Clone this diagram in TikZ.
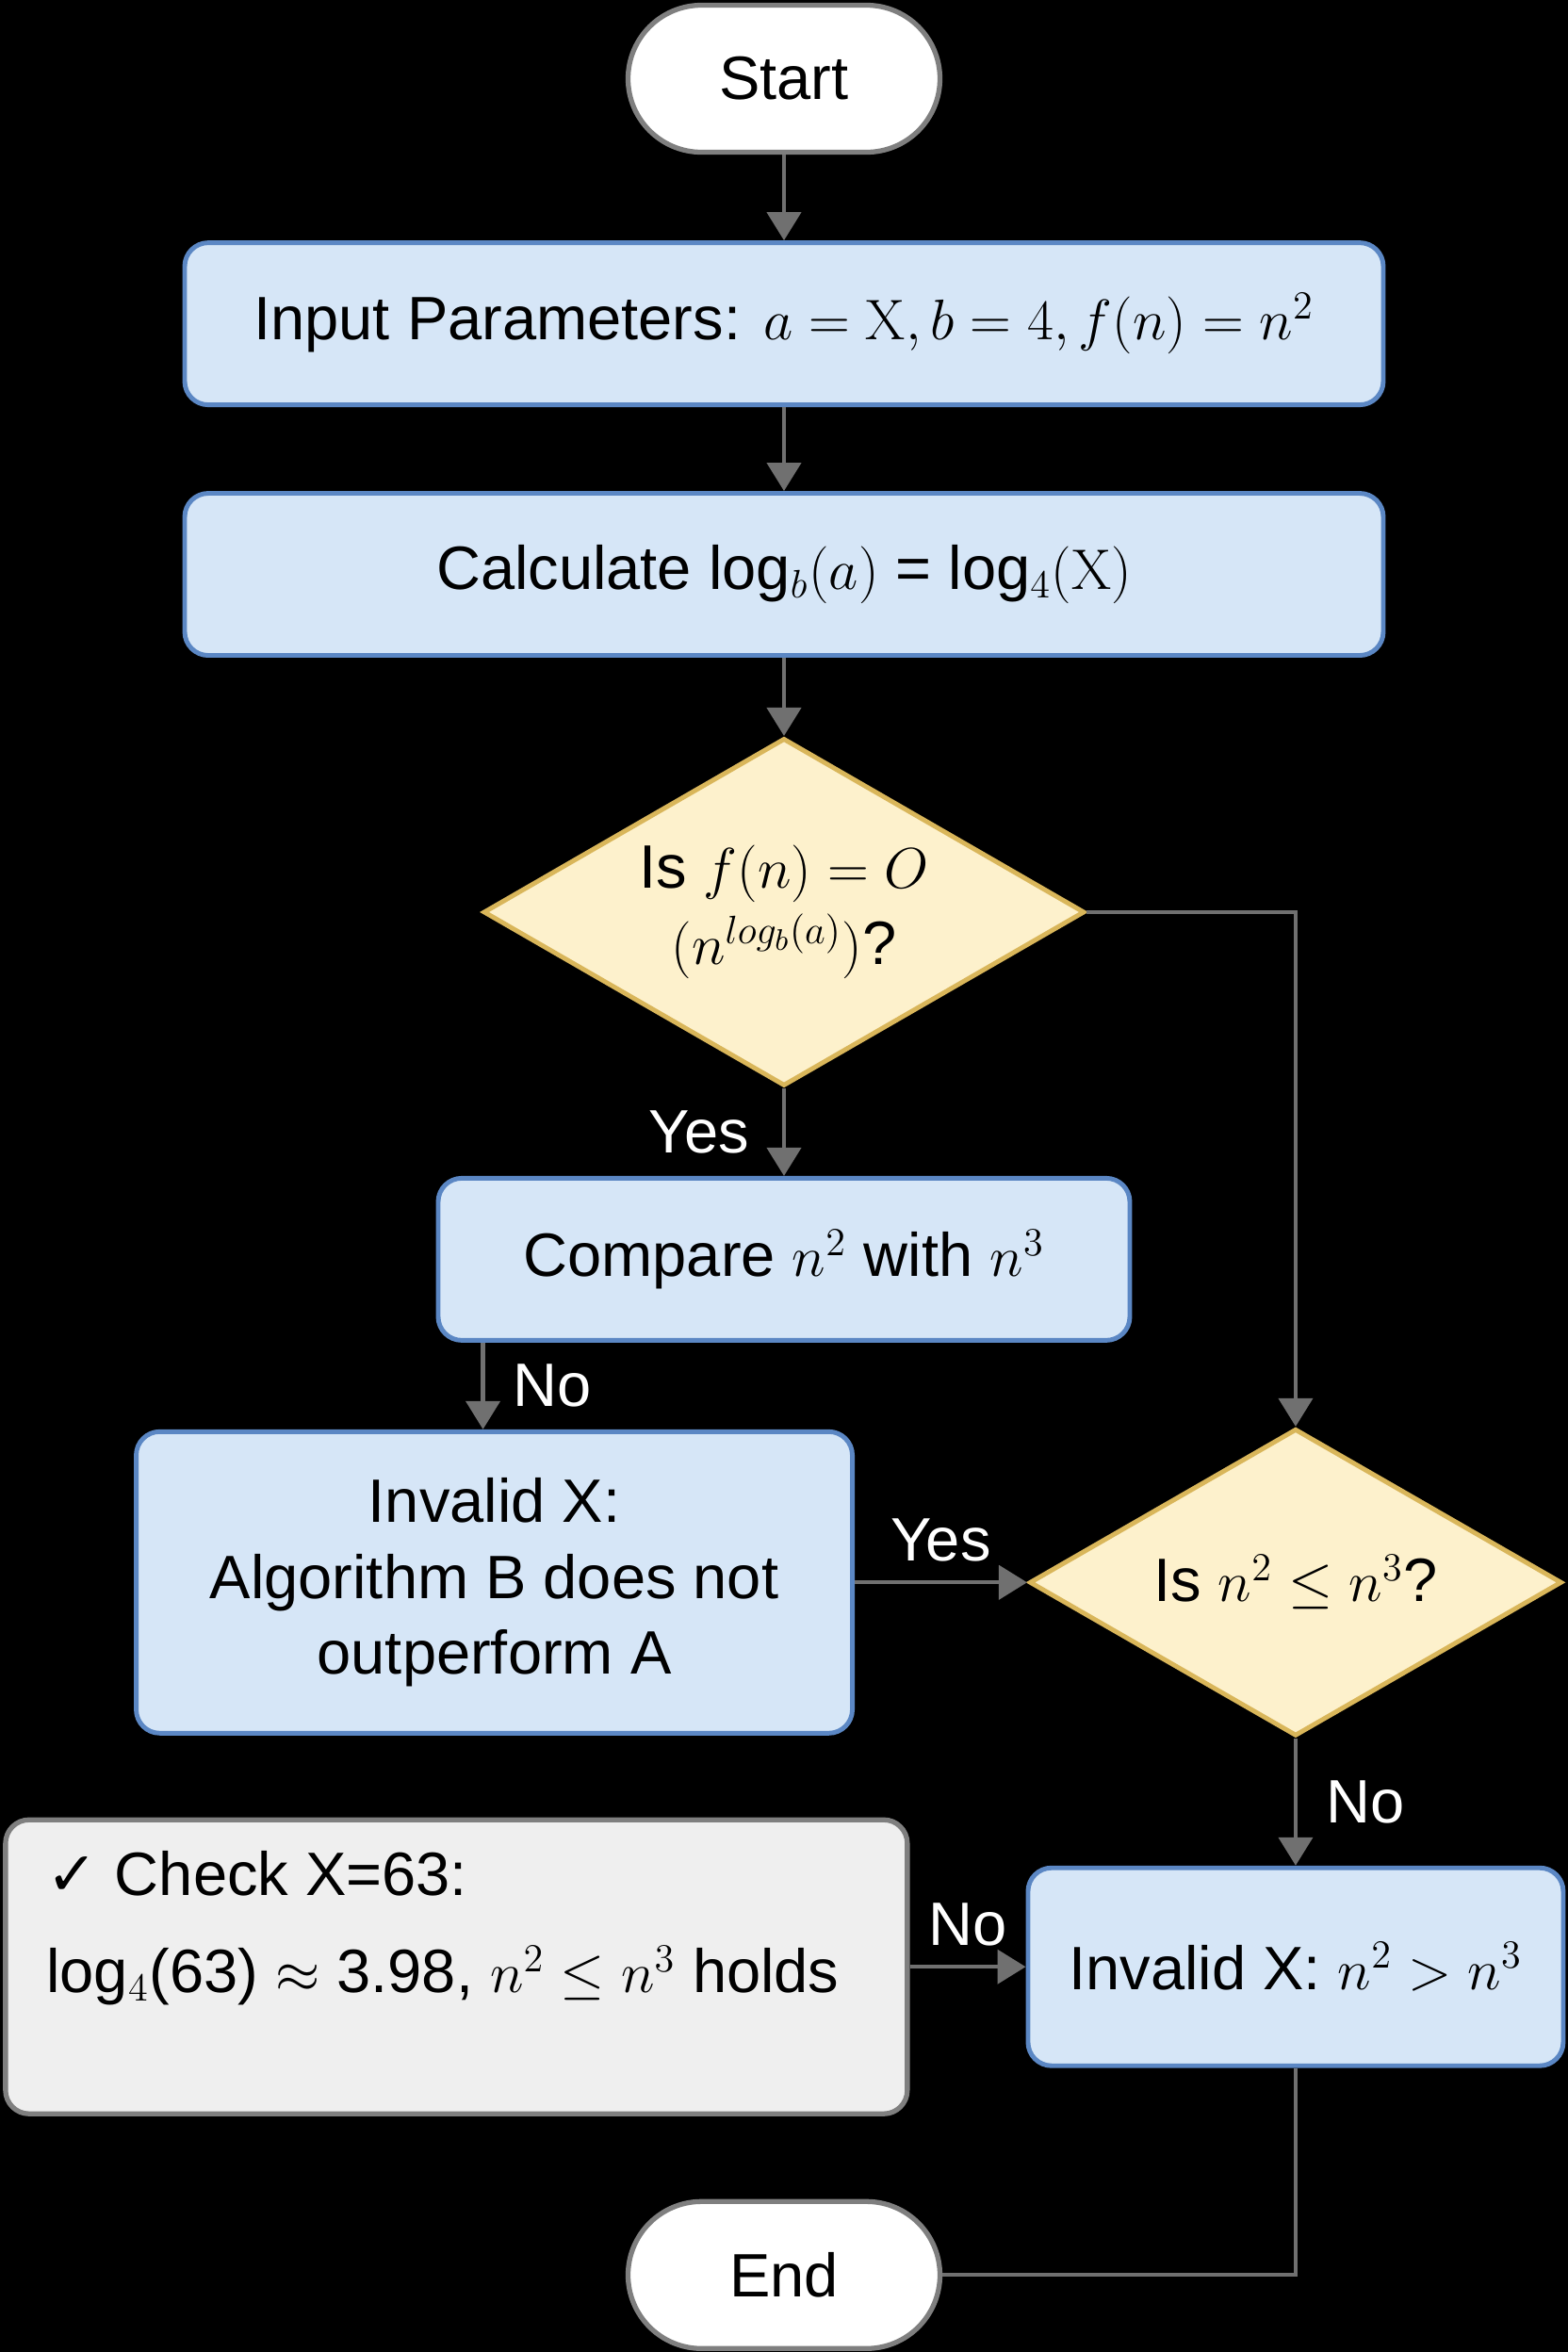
\documentclass[tikz,border=0pt]{standalone}
\usepackage[no-math]{fontspec}
\setmainfont{Liberation Sans}
\newfontfamily\symbolfont{DejaVu Sans}
\usepackage{xcolor}
\usetikzlibrary{positioning, arrows.meta, shapes.geometric}

\definecolor{boxblue}{HTML}{D6E6F7}
\definecolor{edgeblue}{HTML}{5B87C4}
\definecolor{boxyellow}{HTML}{FDF1CC}
\definecolor{edgeyellow}{HTML}{D9B65A}
\definecolor{arrowgrey}{HTML}{707070}
\definecolor{notegrey}{HTML}{EFEFEF}
\definecolor{termgrey}{HTML}{7F7F7F}

\begin{document}
\begin{tikzpicture}[
        node distance=0.9cm and 1.2cm,
        font=\fontsize{18.5}{23}\selectfont,
        procbox/.style={
            draw=edgeblue, line width=1.4pt, rounded corners=0.25cm,
            fill=boxblue, align=center, minimum height=1.72cm
        },
        decision/.style={
            diamond, draw=edgeyellow, line width=1.4pt,
            fill=boxyellow, align=center, aspect=1.72, inner sep=0pt
        },
        terminal/.style={
            draw=termgrey, line width=1.5pt, rounded corners=0.78cm,
            fill=white, minimum width=3.31cm, minimum height=1.56cm
        },
        notebox/.style={
            draw=termgrey, line width=1.5pt, rounded corners=0.25cm,
            fill=notegrey, inner xsep=0.42cm, inner ysep=0.3cm,
            minimum width=9.57cm, minimum height=3.12cm
        },
        flow/.style={
            draw=arrowgrey, line width=1.2pt,
            -{Triangle[width=0.36cm, length=0.3cm]}
        },
        lbl/.style={text=white, inner sep=0.1cm}
    ]

        \fill[black] (0,0) rectangle (16.64,-24.96);
        \useasboundingbox (0,0) rectangle (16.64,-24.96);

        \node[terminal] (Start) at (8.32,-0.835) {Start};

        \node[procbox, minimum width=12.72cm, below=0.91cm of Start] (Input)
            {Input Parameters: $a = \mathrm{X}, b = 4, f(n) = n^2$};

        \node[procbox, minimum width=12.72cm, below=0.89cm of Input] (Calc)
            {Calculate log$_b(a)$ = log$_4(\mathrm{X})$};

        \node[decision, minimum width=6.38cm, minimum height=3.69cm,
              below=0.83cm of Calc] (Master)
            {Is $f(n) = O$\\$(n^{log_b(a)})$?};

        \node[procbox, minimum width=7.34cm, below=0.93cm of Master] (Compare)
            {Compare $n^2$ with $n^3$};

        \node[procbox, minimum width=7.60cm, minimum height=3.20cm,
              below=0.92cm of Compare.south west, xshift=0.62cm] (InvalidA)
            {Invalid X:\\Algorithm B does not\\outperform A};

        \node[decision, minimum width=5.65cm, minimum height=3.26cm,
              right=1.83cm of InvalidA] (Ratio)
            {Is $n^2 \le n^3$?};

        \node[procbox, minimum width=5.68cm, minimum height=2.10cm,
              below=1.35cm of Ratio] (InvalidB)
            {Invalid X: $n^2 > n^3$};

        \node[notebox, left=1.23cm of InvalidB] (Check) {%
            \parbox[t][2.45cm][t]{8.7cm}{\raggedright
            {\symbolfont ✓} Check X=63:\\[0.22cm]
            log$_4$(63) $\approx$ 3.98, $n^2 \le n^3$ holds}};

        \path (Start |- InvalidB.south) ++(0,-1.39)
            node[terminal, anchor=north] (End) {End};

        \draw[flow] (Start) -- (Input);
        \draw[flow] (Input) -- (Calc);
        \draw[flow] (Calc) -- (Master);
        \draw[flow] (Master) -- node[lbl, left=0.25cm] {Yes} (Compare);
        \draw[flow] ([xshift=0.5cm]Compare.south west)
            -- node[lbl, right=0.2cm] {No}
            ([xshift=0.5cm]Compare.south west |- InvalidA.north);
        \draw[flow] (Master.east) -| (Ratio.north);
        \draw[flow] (InvalidA) -- node[lbl, above=0.1cm] {Yes} (Ratio);
        \draw[flow] (Ratio) -- node[lbl, right=0.2cm] {No} (InvalidB);
        \draw[flow] (Check) -- node[lbl, above=0.1cm] {No} (InvalidB);
        \draw[draw=arrowgrey, line width=1.2pt] (InvalidB.south) |- (End.east);

    \end{tikzpicture}
\end{document}
